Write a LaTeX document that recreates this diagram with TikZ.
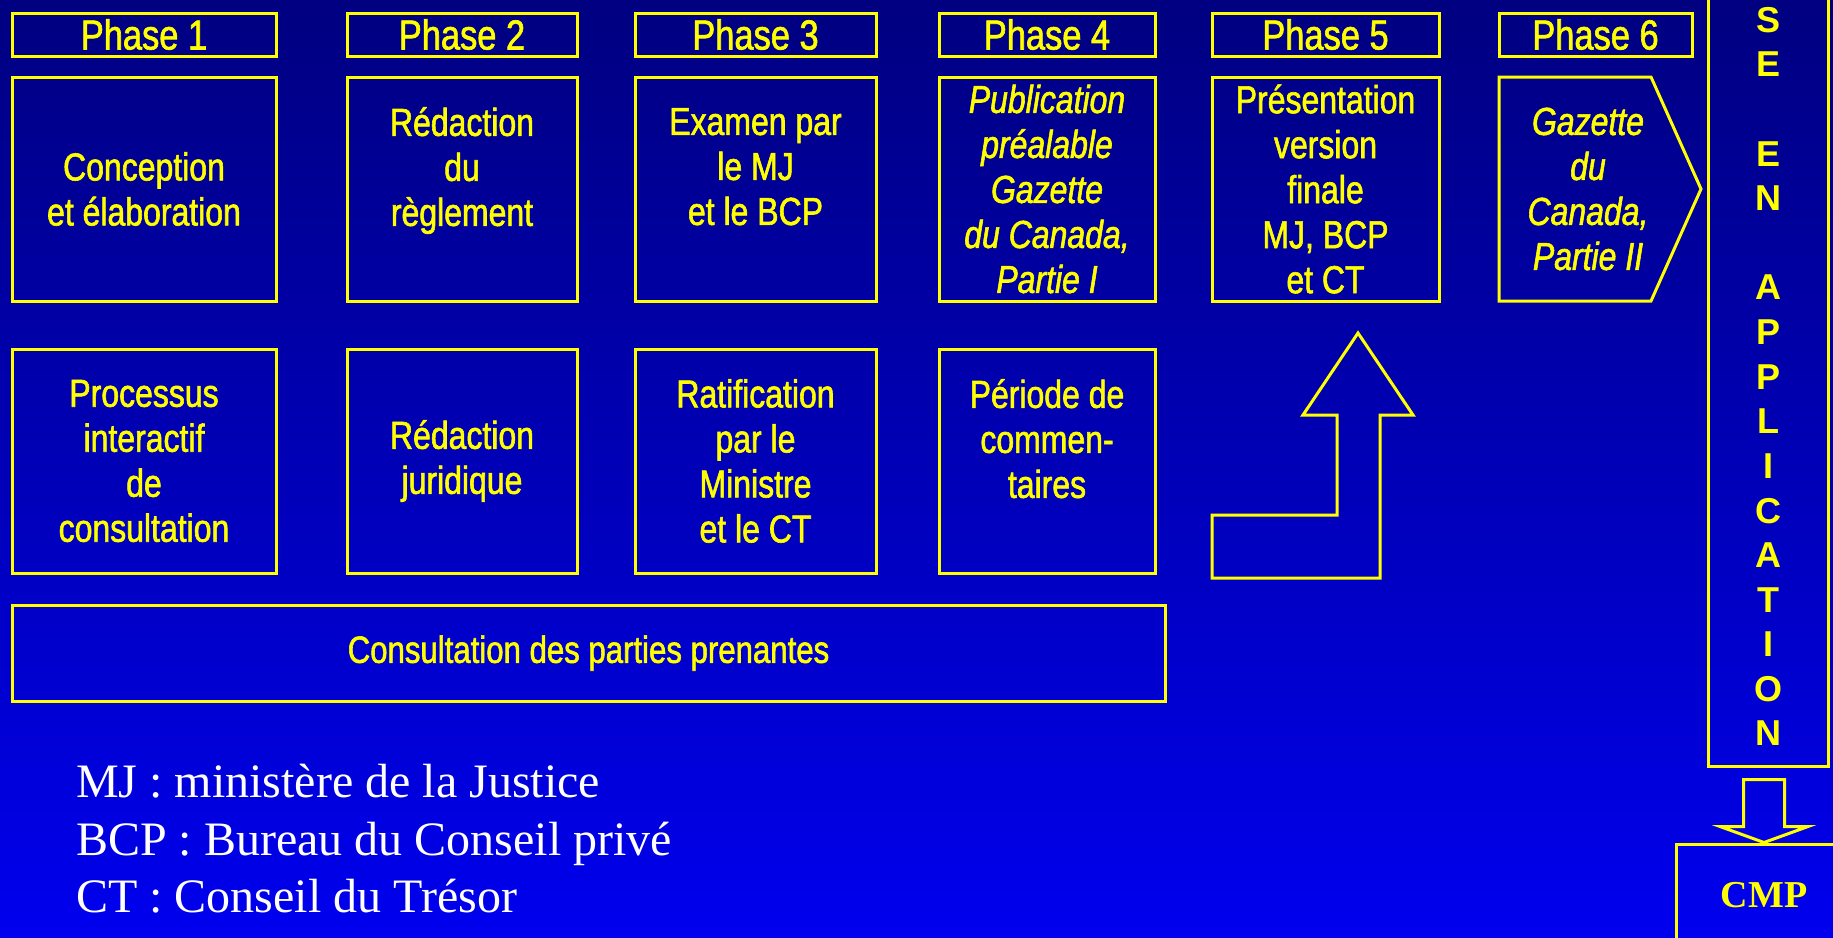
\documentclass[tikz,border=0pt]{standalone}
\usepackage{fontspec}
\setmainfont{Liberation Serif}
\newfontfamily\narrowsans[FakeStretch=0.82, FakeBold=1.5]{Liberation Sans}
\newfontfamily\arialsans{Liberation Sans}
\definecolor{navytop}{RGB}{0,0,128}
\definecolor{bluebottom}{RGB}{0,0,238}
\definecolor{gold}{RGB}{255,255,0}

\begin{document}
\begin{tikzpicture}[x=1pt, y=-1pt,
        outline/.style = {draw=gold, line width=3pt, inner sep=0pt},
        phasehead/.style = {outline, minimum height=43, text=gold, font=\narrowsans\fontsize{42}{48}\selectfont},
        stage/.style = {outline, minimum height=224, text=gold, align=center, font=\narrowsans\fontsize{39}{45}\selectfont},
        slanted/.style = {font=\narrowsans\itshape\fontsize{39}{45}\selectfont},
        letter/.style = {text=gold, inner sep=0pt, font=\arialsans\bfseries\fontsize{36}{40}\selectfont},
        blockarrow/.style = {draw=gold, line width=3pt, line join=miter},
        legendline/.style = {anchor=base west, inner sep=0pt, text=white, font=\fontsize{48}{57}\selectfont},
        ]
        \useasboundingbox (0,0) rectangle (1833,937);
        \clip (0,0) rectangle (1833,937);
        \shade[top color=navytop, bottom color=bluebottom] (0,0) rectangle (1833,937);

        % phase headers
        \node[phasehead, minimum width=264] (h1) at (144,34.5) {Phase 1};
        \node[phasehead, minimum width=230] (h2) at (462,34.5) {Phase 2};
        \node[phasehead, minimum width=241] (h3) at (755.5,34.5) {Phase 3};
        \node[phasehead, minimum width=216] (h4) at (1047,34.5) {Phase 4};
        \node[phasehead, minimum width=227] (h5) at (1325.5,34.5) {Phase 5};
        \node[phasehead, minimum width=193] (h6) at (1595.5,34.5) {Phase 6};

        % upper row
        \node[stage, minimum width=264] (b1) at (144,189) {Conception\\et élaboration};
        \node[stage, minimum width=230] (b2) at (462,189) {Rédaction\\du\\règlement\\\mbox{}};
        \node[stage, minimum width=241] (b3) at (755.5,189) {Examen par\\le MJ\\et le BCP\\\mbox{}};
        \node[stage, slanted, minimum width=216] (b4) at (1047,189) {Publication\\préalable\\Gazette\\du Canada,\\Partie I};
        \node[stage, minimum width=227] (b5) at (1325.5,189) {Présentation\\version\\finale\\MJ, BCP\\et CT};
        \node[stage, slanted, draw=none] (b6) at (1588,189) {Gazette\\du\\Canada,\\Partie II};
        \draw[blockarrow] (1499,77) -- (1651,77) -- (1701,189) -- (1651,301) -- (1499,301) -- cycle;

        % lower row
        \node[stage, minimum width=264] (c1) at (144,461) {Processus\\interactif\\de\\consultation};
        \node[stage, minimum width=230] (c2) at (462,461) {Rédaction\\juridique};
        \node[stage, minimum width=241] (c3) at (755.5,461) {Ratification\\par le\\Ministre\\et le CT};
        \node[stage, minimum width=216] (c4) at (1047,461) {Période de\\commen-\\taires\\\mbox{}};

        \node[stage, minimum width=1153, minimum height=96, font=\narrowsans\fontsize{38}{45}\selectfont] (cons) at (588.5,653) {Consultation des parties prenantes};

        % return arrow to phase 5
        \draw[blockarrow] (1358,333) -- (1413,415) -- (1380,415) -- (1380,578) -- (1212,578)
            -- (1212,515) -- (1337,515) -- (1337,415) -- (1303,415) -- cycle;

        % mise en application (top of the column runs off the page)
        \node[outline, minimum width=120, minimum height=776] (mise) at (1768,378) {};
        \foreach \l [count=\i] in {S,E,{},E,N,{},A,P,P,L,I,C,A,T,I,O,N}
            \node[letter] (l\i) at (1768,{20+(\i-1)*44.6}) {\l};

        \node[outline, minimum width=176, minimum height=102, text=gold, font=\bfseries\fontsize{38}{44}\selectfont] (cmp) at (1764,895) {CMP};
        \draw[blockarrow] (cmp.north) -- ++(-44,-16) -- ++(23.5,0) -- ++(0,-47) -- ++(41,0)
            -- ++(0,47) -- ++(23.5,0) -- cycle;

        % legend
        \node[legendline] (mj) at (76,797) {MJ : ministère de la Justice};
        \node[legendline] (bcp) at (76,855) {BCP : Bureau du Conseil privé};
        \node[legendline] (ct) at (76,912) {CT : Conseil du Trésor};
    \end{tikzpicture}
\end{document}
